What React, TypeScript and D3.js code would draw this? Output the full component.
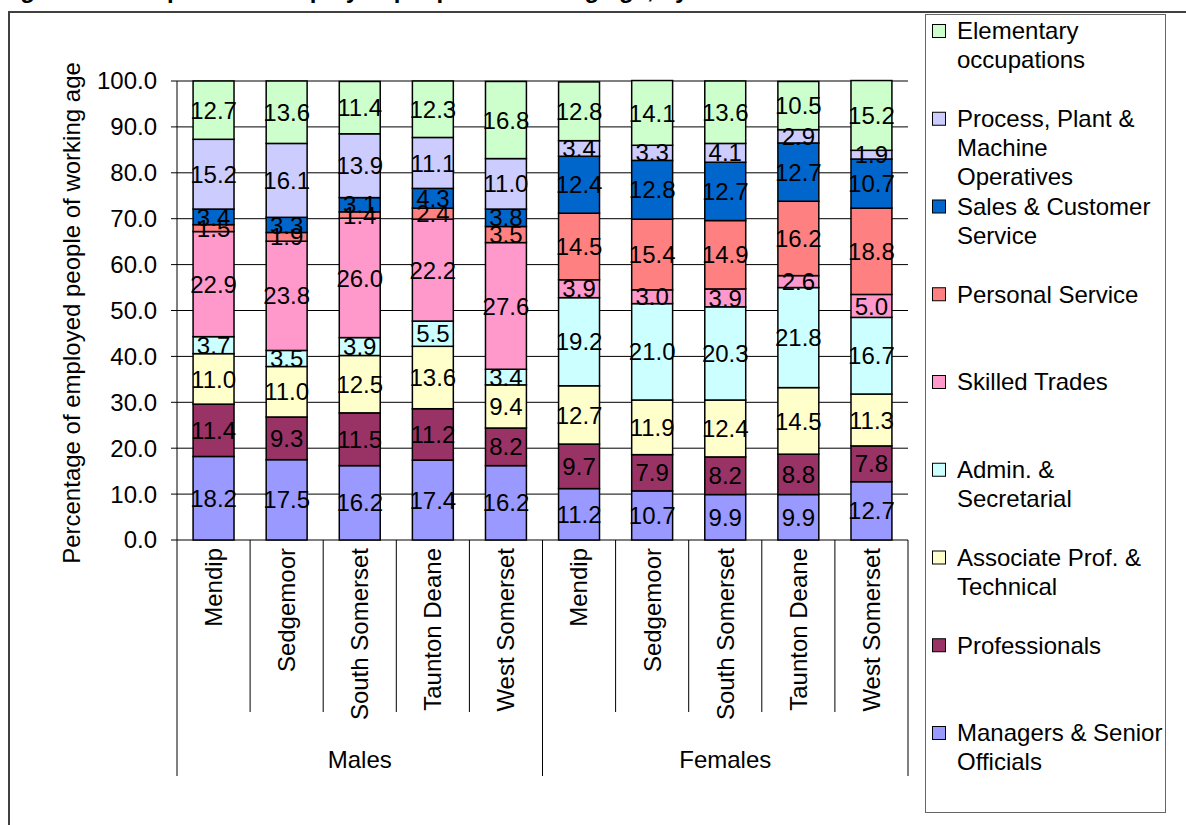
import React from "react";
import * as d3 from "d3";

// Districts and sex groups along the category axis
const districts = ["Mendip", "Sedgemoor", "South Somerset", "Taunton Deane", "West Somerset"];
const groups = ["Males", "Females"];

// Occupation groups, stacked bottom to top
const occupations = [
  "Managers & Senior Officials",
  "Professionals",
  "Associate Prof. & Technical",
  "Admin. & Secretarial",
  "Skilled Trades",
  "Personal Service",
  "Sales & Customer Service",
  "Process, Plant & Machine Operatives",
  "Elementary occupations",
];

// Legend text, split into lines
const legendLines = [
  ["Managers & Senior", "Officials"],
  ["Professionals"],
  ["Associate Prof. &", "Technical"],
  ["Admin. &", "Secretarial"],
  ["Skilled Trades"],
  ["Personal Service"],
  ["Sales & Customer", "Service"],
  ["Process, Plant &", "Machine", "Operatives"],
  ["Elementary", "occupations"],
];

const colors = ["#9999FF", "#993366", "#FFFFCC", "#CCFFFF", "#FF99CC", "#FF8080", "#0066CC", "#CCCCFF", "#CCFFCC"];

// Percentages: five male districts, then five female districts
const managers = [18.2, 17.5, 16.2, 17.4, 16.2, 11.2, 10.7, 9.9, 9.9, 12.7];
const professionals = [11.4, 9.3, 11.5, 11.2, 8.2, 9.7, 7.9, 8.2, 8.8, 7.8];
const associate = [11.0, 11.0, 12.5, 13.6, 9.4, 12.7, 11.9, 12.4, 14.5, 11.3];
const admin = [3.7, 3.5, 3.9, 5.5, 3.4, 19.2, 21.0, 20.3, 21.8, 16.7];
const skilled = [22.9, 23.8, 26.0, 22.2, 27.6, 3.9, 3.0, 3.9, 2.6, 5.0];
const personal = [1.5, 1.9, 1.4, 2.4, 3.5, 14.5, 15.4, 14.9, 16.2, 18.8];
const sales = [3.4, 3.3, 3.1, 4.3, 3.8, 12.4, 12.8, 12.7, 12.7, 10.7];
const processOps = [15.2, 16.1, 13.9, 11.1, 11.0, 3.4, 3.3, 4.1, 2.9, 1.9];
const elementary = [12.7, 13.6, 11.4, 12.3, 16.8, 12.8, 14.1, 13.6, 10.5, 15.2];

const yTicks = [0, 10, 20, 30, 40, 50, 60, 70, 80, 90, 100];

const series = [managers, professionals, associate, admin, skilled, personal, sales, processOps, elementary];

const FONT = "'Liberation Sans', Arial, sans-serif";

export default function App() {
  const W = 1186;
  const H = 825;
  const left = 177;
  const right = 908;
  const top = 81;
  const bottom = 540;

  const keys = groups.flatMap((g) => districts.map((d) => `${g}|${d}`));
  const rows = keys.map((k, i) => {
    const r: Record<string, any> = { key: k };
    occupations.forEach((o, j) => (r[o] = series[j][i]));
    return r;
  });

  const x = d3.scaleBand<string>().domain(keys).range([left, right]).padding(0);
  const y = d3.scaleLinear().domain([0, 100]).range([bottom, top]);
  const stacked = d3.stack<any>().keys(occupations)(rows);
  const barW = x.bandwidth() * 0.56;
  const fs = 24;

  const groupScale = d3.scaleBand<string>().domain(groups).range([left, right]);

  return (
    <svg width={W} height={H} style={{ position: "absolute", left: 0, top: 0, background: "#fff" }} fontFamily={FONT}>
      {/* title, mostly above the page edge */}
      <text x={-1} y={-2} fontSize={24} fontWeight="bold" fill="#000">
        Figure 5: Occupation of employed people of working age, by district
      </text>
      {/* outer frame */}
      <rect x={9} y={12} width={1300} height={1000} fill="none" stroke="#404040" strokeWidth={2} />

      {/* gridlines */}
      {yTicks.map((t) => (
        <line key={"g" + t} x1={left} x2={right} y1={y(t)} y2={y(t)} stroke="#000" strokeWidth={1} />
      ))}
      {/* y axis */}
      <line x1={left} x2={left} y1={top} y2={bottom} stroke="#000" strokeWidth={1} />
      {yTicks.map((t) => (
        <g key={"t" + t}>
          <line x1={left - 6} x2={left} y1={y(t)} y2={y(t)} stroke="#000" />
          <text x={157} y={y(t)} dy="0.35em" textAnchor="end" fontSize={fs}>
            {t.toFixed(1)}
          </text>
        </g>
      ))}
      <text transform={`translate(72, 313) rotate(-90)`} textAnchor="middle" dy="0.35em" fontSize={fs}>
        Percentage of employed people of working age
      </text>

      {/* bars */}
      {stacked.map((s, si) =>
        s.map((d) => {
          const k = d.data.key as string;
          const cx = (x(k) as number) + x.bandwidth() / 2;
          return (
            <rect
              key={si + k}
              x={cx - barW / 2}
              y={y(d[1])}
              width={barW}
              height={y(d[0]) - y(d[1])}
              fill={colors[si]}
              stroke="#000"
              strokeWidth={1.5}
            />
          );
        })
      )}
      {/* value labels */}
      {stacked.map((s, si) =>
        s.map((d) => {
          const k = d.data.key as string;
          const cx = (x(k) as number) + x.bandwidth() / 2;
          const v = d.data[occupations[si]] as number;
          return (
            <text key={"l" + si + k} x={cx} y={y((d[0] + d[1]) / 2)} dy="0.36em" textAnchor="middle" fontSize={fs} fill="#000">
              {v.toFixed(1)}
            </text>
          );
        })
      )}

      {/* category axis */}
      {keys.map((k, i) => {
        const x0 = x(k) as number;
        const cx = x0 + x.bandwidth() / 2;
        const district = k.split("|")[1];
        return (
          <g key={"c" + k}>
            {i % 5 !== 0 && <line x1={x0} x2={x0} y1={bottom} y2={712} stroke="#000" />}
            <text transform={`translate(${cx}, 548) rotate(-90)`} textAnchor="end" dy="0.35em" fontSize={fs}>
              {district}
            </text>
          </g>
        );
      })}
      {[left, (left + right) / 2, right].map((gx, i) => (
        <line key={"gl" + i} x1={gx} x2={gx} y1={bottom} y2={776} stroke="#000" />
      ))}
      {groups.map((g) => (
        <text key={g} x={(groupScale(g) as number) + groupScale.bandwidth() / 2} y={760} dy="0.35em" textAnchor="middle" fontSize={fs}>
          {g}
        </text>
      ))}

      {/* legend */}
      <rect x={925.5} y={14.5} width={240} height={798} fill="#fff" stroke="#666" strokeWidth={1} />
      {occupations
        .map((o, i) => ({ o, i }))
        .reverse()
        .map(({ o, i }, j) => {
          const y0 = 31 + j * 87.75;
          return (
            <g key={"lg" + o}>
              <rect x={932.5} y={y0 - 6.5} width={13} height={13} fill={colors[i]} stroke="#000" strokeWidth={1} />
              {legendLines[i].map((ln, li) => (
                <text key={li} x={957} y={y0 + li * 29} dy="0.35em" fontSize={fs}>
                  {ln}
                </text>
              ))}
            </g>
          );
        })}
    </svg>
  );
}
